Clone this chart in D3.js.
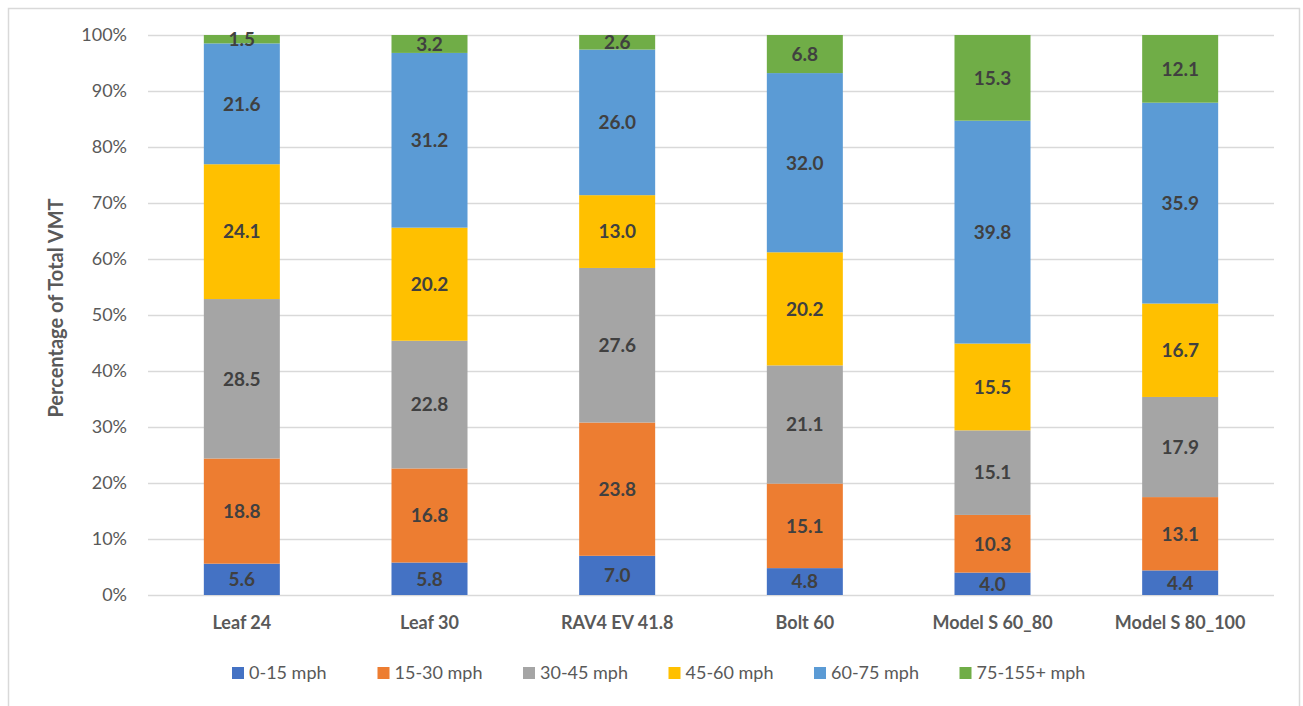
<!DOCTYPE html>
<html>
<head>
<meta charset="utf-8">
<script src="https://cdn.jsdelivr.net/npm/d3@7"></script>
<style>
  html, body { margin: 0; padding: 0; background: #fff; }
  svg { display: block; font-family: Lato, "Open Sans", "Liberation Sans", sans-serif; }
</style>
</head>
<body>
<svg id="chart" width="1303" height="706"></svg>
<script>
const categories = ["Leaf 24", "Leaf 30", "RAV4 EV 41.8", "Bolt 60", "Model S 60_80", "Model S 80_100"];
const seriesNames = ["0-15 mph", "15-30 mph", "30-45 mph", "45-60 mph", "60-75 mph", "75-155+ mph"];
const s0_15   = [5.6, 5.8, 7.0, 4.8, 4.0, 4.4];
const s15_30  = [18.8, 16.8, 23.8, 15.1, 10.3, 13.1];
const s30_45  = [28.5, 22.8, 27.6, 21.1, 15.1, 17.9];
const s45_60  = [24.1, 20.2, 13.0, 20.2, 15.5, 16.7];
const s60_75  = [21.6, 31.2, 26.0, 32.0, 39.8, 35.9];
const s75_155 = [1.5, 3.2, 2.6, 6.8, 15.3, 12.1];
const yTicks = [0, 0.1, 0.2, 0.3, 0.4, 0.5, 0.6, 0.7, 0.8, 0.9, 1.0];
const colors = ["#4472C4", "#ED7D31", "#A5A5A5", "#FFC000", "#5B9BD5", "#70AD47"];

const seriesValues = [s0_15, s15_30, s30_45, s45_60, s60_75, s75_155];
const rows = categories.map((c, i) => {
  const r = { cat: c };
  seriesNames.forEach((s, j) => r[s] = seriesValues[j][i]);
  return r;
});

const svg = d3.select("#chart");
const plotL = 148, plotR = 1274, plotT = 35, plotB = 595;

// outer border
svg.append("rect").attr("x", 8.5).attr("y", 8.5).attr("width", 1291).attr("height", 700)
  .attr("fill", "none").attr("stroke", "#d9d9d9").attr("stroke-width", 1.5);

const x = d3.scaleBand().domain(categories).range([plotL, plotR]).paddingInner(0.595).paddingOuter(0.2975);
const y = d3.scaleLinear().domain([0, 1]).range([plotB, plotT]);

// gridlines
svg.append("g").selectAll("line").data(yTicks).join("line")
  .attr("x1", plotL).attr("x2", plotR)
  .attr("y1", d => Math.round(y(d)) + 0.5).attr("y2", d => Math.round(y(d)) + 0.5)
  .attr("stroke", "#d9d9d9").attr("stroke-width", 1.3);

// y axis labels
const yAxis = d3.axisLeft(y).tickValues(yTicks).tickFormat(d3.format(".0%")).tickSize(0).tickPadding(0);
const gy = svg.append("g").attr("transform", `translate(127,0)`).call(yAxis);
gy.select(".domain").remove();
gy.selectAll("text").attr("fill", "#595959").style("font-size", "18px").style("font-family", "Lato, sans-serif");

const stack = d3.stack().keys(seriesNames).offset(d3.stackOffsetExpand);
const stacked = stack(rows);

const g = svg.append("g");
stacked.forEach((layer, j) => {
  g.append("g").selectAll("rect").data(layer).join("rect")
    .attr("x", d => x(d.data.cat))
    .attr("width", x.bandwidth())
    .attr("y", d => y(d[1]))
    .attr("height", d => y(d[0]) - y(d[1]))
    .attr("fill", colors[j]);
});
stacked.forEach((layer, j) => {
  g.append("g").selectAll("text").data(layer).join("text")
    .attr("x", d => x(d.data.cat) + x.bandwidth() / 2)
    .attr("y", d => (y(d[0]) + y(d[1])) / 2)
    .attr("dy", "0.36em")
    .attr("text-anchor", "middle")
    .attr("fill", "#404040")
    .style("font-size", "19px").style("font-weight", "bold")
    .text(d => d.data[layer.key].toFixed(1));
});

// x axis
const xAxis = d3.axisBottom(x).tickSize(0).tickPadding(0);
const gx = svg.append("g").attr("transform", `translate(0,${plotB})`).call(xAxis);
gx.select(".domain").remove();
gx.selectAll("text").attr("fill", "#595959").attr("y", 34).attr("dy", 0)
  .style("font-size", "18px").style("font-weight", "bold").style("font-family", "Lato, sans-serif");

// y axis title
svg.append("text")
  .attr("transform", `translate(63,308) rotate(-90)`)
  .attr("text-anchor", "middle")
  .attr("fill", "#595959")
  .style("font-size", "20px").style("font-weight", "bold")
  .text("Percentage of Total VMT");

// legend
const legend = svg.append("g").attr("transform", "translate(232,673)");
const item = legend.selectAll("g").data(seriesNames).join("g")
  .attr("transform", (d, i) => `translate(${i * 145.5},0)`);
item.append("rect").attr("x", 0).attr("y", -6).attr("width", 12).attr("height", 12)
  .attr("fill", (d, i) => colors[i]);
item.append("text").attr("x", 17).attr("y", 0).attr("dy", "0.35em")
  .attr("fill", "#595959").style("font-size", "18px").text(d => d);
</script>
</body>
</html>
